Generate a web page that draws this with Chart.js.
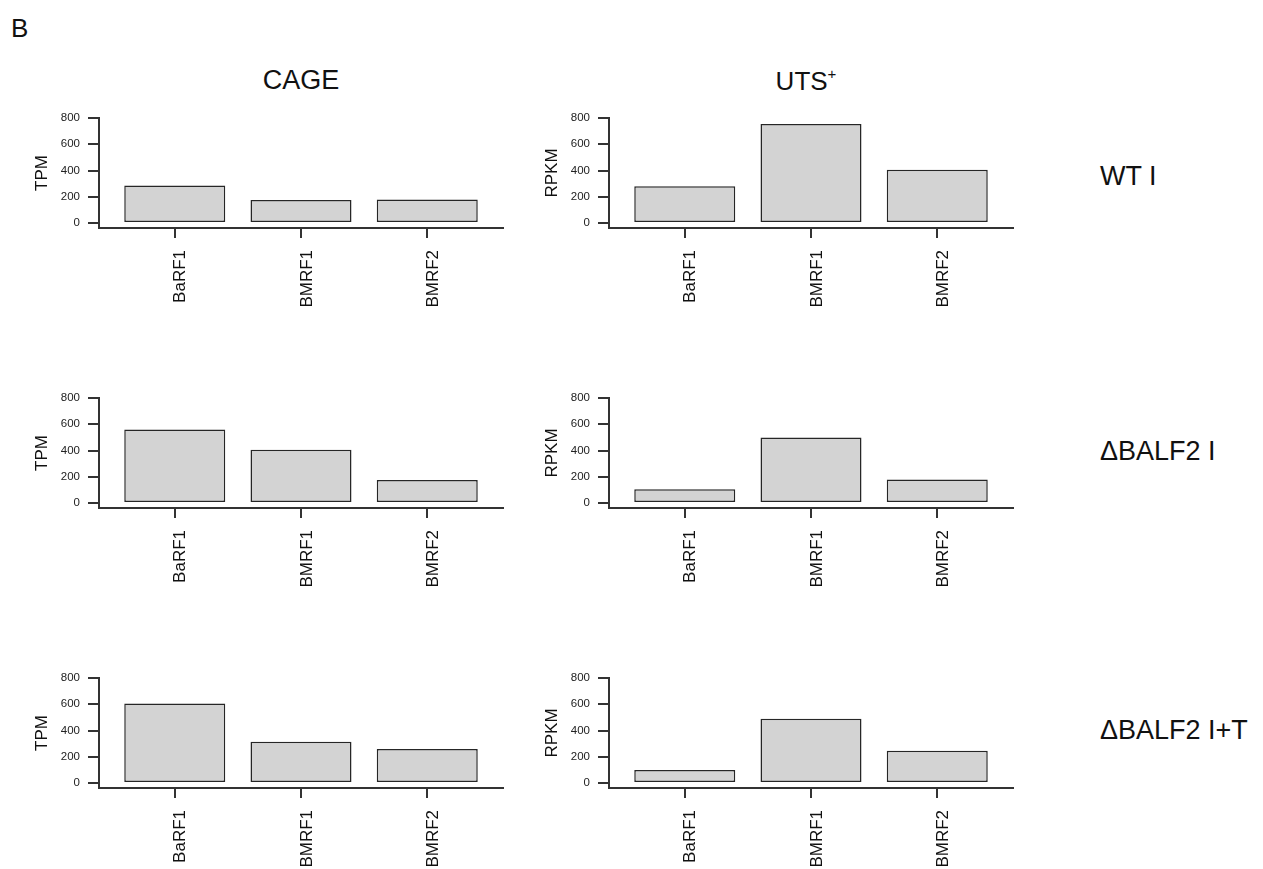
<!DOCTYPE html>
<html>
<head>
<meta charset="utf-8">
<script src="https://cdn.jsdelivr.net/npm/chart.js@4.4.1/dist/chart.umd.min.js"></script>
<style>
  html, body { margin: 0; padding: 0; background: #fff; }
  body { width: 1263px; height: 869px; position: relative; overflow: hidden;
         font-family: "Liberation Sans", Arial, Helvetica, sans-serif; color: #111; }
  .panel { position: absolute; width: 510px; height: 215px; }
  .txt { position: absolute; line-height: 1; white-space: nowrap; }
  .col-title { width: 240px; text-align: center; font-size: 27px; top: 67px; }
  .row-label { font-size: 27px; left: 1100px; }
  sup { font-size: 15px; vertical-align: 0; position: relative; top: -11px; }
</style>
</head>
<body>
<div class="txt" style="left:11px; top:15px; font-size:26px;">B</div>
<div class="txt col-title" style="left:181px;">CAGE</div>
<div class="txt col-title" style="left:686px; font-size:26px; top:68px;">UTS<sup>+</sup></div>
<div class="txt row-label" style="top:163px;">WT I</div>
<div class="txt row-label" style="top:438px;">ΔBALF2 I</div>
<div class="txt row-label" style="top:717px;">ΔBALF2 I+T</div>

<div class="panel" style="left:0px;   top:103px;"><canvas id="c1"></canvas></div>
<div class="panel" style="left:510px; top:103px;"><canvas id="c2"></canvas></div>
<div class="panel" style="left:0px;   top:383px;"><canvas id="c3"></canvas></div>
<div class="panel" style="left:510px; top:383px;"><canvas id="c4"></canvas></div>
<div class="panel" style="left:0px;   top:663px;"><canvas id="c5"></canvas></div>
<div class="panel" style="left:510px; top:663px;"><canvas id="c6"></canvas></div>

<script>
// Genes shown in every panel
const categories = ['BaRF1', 'BMRF1', 'BMRF2'];

// CAGE (TPM) and UTS+ (RPKM) values per condition
const cageWT   = [285, 175, 180];
const utsWT    = [280, 755, 405];
const cageDel  = [560, 405, 175];
const utsDel   = [105, 500, 180];
const cageDelT = [605, 315, 260];
const utsDelT  = [100, 490, 245];

// Value-axis ticks
const yTicks = [0, 200, 400, 600, 800];

const FONT = '"Liberation Sans", Arial, Helvetica, sans-serif';
const AXIS = '#333';

function makePanel(id, values, yTitle) {
  new Chart(document.getElementById(id), {
    type: 'bar',
    data: {
      datasets: [{
        data: values.map((v, i) => ({ x: i, y: v })),
        backgroundColor: '#d3d3d3',
        borderColor: '#262626',
        borderWidth: 1.5,
        borderSkipped: false,
        categoryPercentage: 0.8,
        barPercentage: 1
      }]
    },
    options: {
      responsive: true,
      maintainAspectRatio: false,
      animation: false,
      layout: { padding: { left: 27, right: 7, top: 15, bottom: 10 } },
      plugins: { legend: { display: false }, tooltip: { enabled: false } },
      scales: {
        x: {
          type: 'linear',
          min: -0.6,
          max: categories.length - 0.4,
          offset: false,
          afterBuildTicks: s => { s.ticks = categories.map((c, i) => ({ value: i })); },
          afterFit: s => { s.height = 80; },
          border: { display: true, color: AXIS, width: 2 },
          grid: { drawOnChartArea: false, drawTicks: true, tickLength: 10, color: AXIS, lineWidth: 2, offset: false },
          ticks: {
            autoSkip: false,
            minRotation: 90,
            maxRotation: 90,
            padding: 12,
            labelOffset: 6,
            color: '#111',
            font: { family: FONT, size: 17 },
            callback: v => categories[v] ?? ''
          }
        },
        y: {
          min: -38,
          max: 800,
          afterBuildTicks: s => { s.ticks = yTicks.map(v => ({ value: v })); },
          afterFit: s => { s.width = 72; },
          border: { display: true, color: AXIS, width: 2 },
          grid: { drawOnChartArea: false, drawTicks: true, tickLength: 11, color: AXIS, lineWidth: 2 },
          ticks: {
            padding: 8,
            color: '#222',
            font: { family: FONT, size: 11.5 }
          },
          title: {
            display: true,
            text: yTitle,
            color: '#111',
            padding: { top: 5.5, bottom: 0 },
            font: { family: FONT, size: 17 }
          }
        }
      }
    }
  });
}

makePanel('c1', cageWT,   'TPM');
makePanel('c2', utsWT,    'RPKM');
makePanel('c3', cageDel,  'TPM');
makePanel('c4', utsDel,   'RPKM');
makePanel('c5', cageDelT, 'TPM');
makePanel('c6', utsDelT,  'RPKM');
</script>
</body>
</html>
